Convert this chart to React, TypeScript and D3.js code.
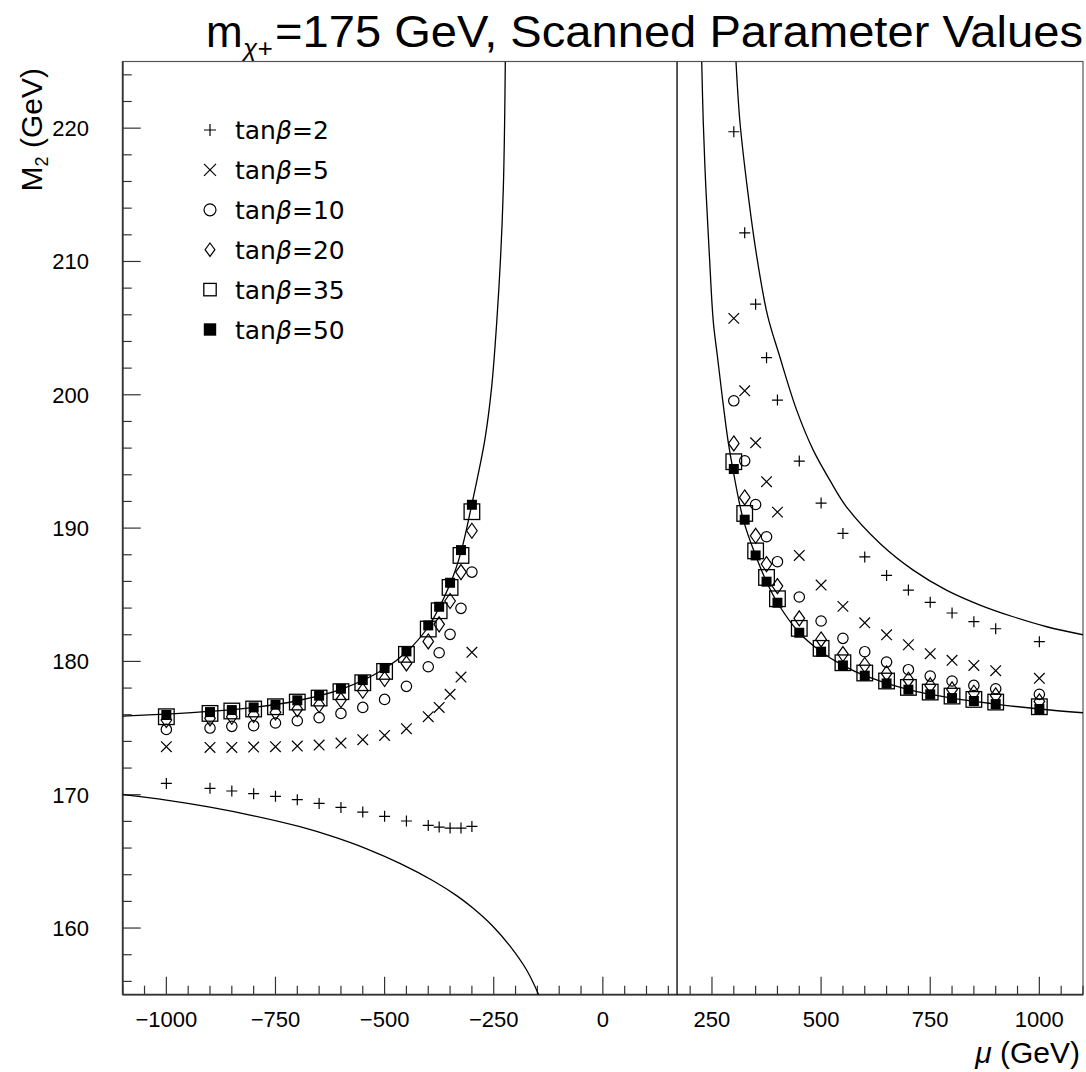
import React from "react";
import * as d3 from "d3";

// ---- scanned parameter points ----
const muLeft = [-1000, -900, -850, -800, -750, -700, -650, -600, -550, -500, -450, -400, -375, -350, -325, -300];
const muRight = [300, 325, 350, 375, 400, 450, 500, 550, 600, 650, 700, 750, 800, 850, 900, 1000];

const tanBetaLabels = ["2", "5", "10", "20", "35", "50"];
const markerTypes = ["plus", "cross", "circle", "diamond", "square", "filled"];

const m2Tan2Left = [170.85, 170.48, 170.28, 170.08, 169.88, 169.63, 169.35, 169.05, 168.7, 168.38, 168.03, 167.7, 167.57, 167.5, 167.5, 167.62];
const m2Tan5Left = [173.6, 173.55, 173.55, 173.58, 173.6, 173.65, 173.73, 173.88, 174.13, 174.45, 174.95, 175.85, 176.55, 177.53, 178.83, 180.68];
const m2Tan10Left = [174.9, 175.0, 175.13, 175.18, 175.38, 175.55, 175.78, 176.1, 176.55, 177.15, 178.13, 179.6, 180.65, 182.03, 183.98, 186.7];
const m2Tan20Left = [175.6, 175.73, 175.85, 175.98, 176.18, 176.42, 176.73, 177.1, 177.8, 178.68, 179.85, 181.5, 182.78, 184.53, 186.7, 189.8];
const m2Tan35Left = [175.85, 176.1, 176.28, 176.43, 176.6, 176.95, 177.25, 177.73, 178.4, 179.25, 180.53, 182.43, 183.8, 185.55, 187.95, 191.23];
const m2Tan50Left = [175.98, 176.2, 176.35, 176.55, 176.75, 177.08, 177.43, 177.95, 178.6, 179.5, 180.75, 182.7, 184.1, 185.9, 188.35, 191.75];

const m2Tan2Right = [219.73, 212.15, 206.8, 202.78, 199.6, 195.03, 191.88, 189.6, 187.84, 186.45, 185.35, 184.43, 183.63, 182.98, 182.45, 181.48];
const m2Tan5Right = [205.73, 200.3, 196.4, 193.48, 191.2, 187.95, 185.73, 184.13, 182.9, 182.0, 181.25, 180.58, 180.08, 179.7, 179.3, 178.73];
const m2Tan10Right = [199.55, 195.05, 191.77, 189.35, 187.48, 184.83, 183.03, 181.73, 180.73, 179.95, 179.38, 178.9, 178.53, 178.2, 177.95, 177.53];
const m2Tan20Right = [196.35, 192.3, 189.42, 187.3, 185.65, 183.23, 181.65, 180.55, 179.73, 179.1, 178.63, 178.2, 177.9, 177.65, 177.45, 177.0];
const m2Tan35Right = [194.98, 191.1, 188.29, 186.3, 184.7, 182.48, 180.98, 179.9, 179.13, 178.53, 178.05, 177.7, 177.4, 177.15, 176.95, 176.6];
const m2Tan50Right = [194.43, 190.63, 187.95, 185.98, 184.4, 182.15, 180.73, 179.7, 178.93, 178.35, 177.88, 177.53, 177.25, 177.03, 176.8, 176.43];

// ---- boundary curves ----
const curveUpperLeftMu = [-1100, -1000, -900, -800, -700, -600, -500, -450, -400, -350, -325, -300, -289, -270, -255, -243, -234, -228, -225, -223.5];
const curveUpperLeftM2 = [175.9, 176.05, 176.25, 176.55, 177.05, 177.9, 179.45, 180.7, 182.6, 185.8, 188.2, 191.8, 193.5, 196.7, 200.5, 205.5, 210.5, 215.5, 220.5, 225];

const curveLowerLeftMu = [-1100, -1000, -900, -800, -694, -618, -541, -465, -388, -335, -297, -251, -213, -175, -150, -140];
const curveLowerLeftM2 = [170.0, 169.6, 169.07, 168.42, 167.6, 166.85, 165.94, 164.85, 163.53, 162.43, 161.48, 160.1, 158.66, 156.87, 155.22, 154.4];

const curveInnerRightMu = [226.5, 230, 236, 244, 253, 262, 273, 287, 298, 322, 350, 375, 400, 450, 500, 550, 600, 700, 800, 900, 1000, 1100];
const curveInnerRightM2 = [225, 220.5, 215.5, 210.5, 205.5, 203.0, 200.0, 196.5, 194.4, 190.6, 187.95, 185.98, 184.4, 182.15, 180.73, 179.7, 178.93, 177.88, 177.25, 176.8, 176.43, 176.15];

const curveOuterRightMu = [305, 314, 331, 352, 377, 404, 444, 482, 520, 558, 635, 711, 787, 864, 940, 1017, 1100];
const curveOuterRightM2 = [225, 220.5, 215.5, 210.5, 206.0, 203.0, 198.85, 195.85, 193.6, 191.6, 188.85, 186.85, 185.35, 184.23, 183.35, 182.6, 182.0];

const verticalLineMu = 170;

const xDomain = [-1100, 1100];
const yDomain = [155, 225];

function markerPath(type: string, cx: number, cy: number, sz: any, key: string) {
  const sw = 1.2;
  if (type === "plus") {
    const h = sz.plus;
    return <path key={key} d={`M${cx - h},${cy}H${cx + h}M${cx},${cy - h}V${cy + h}`} stroke="#000" strokeWidth={sw} fill="none" />;
  }
  if (type === "cross") {
    const h = sz.cross;
    return <path key={key} d={`M${cx - h},${cy - h}L${cx + h},${cy + h}M${cx - h},${cy + h}L${cx + h},${cy - h}`} stroke="#000" strokeWidth={sw} fill="none" />;
  }
  if (type === "circle") {
    return <circle key={key} cx={cx} cy={cy} r={sz.circle} stroke="#000" strokeWidth={sw} fill="none" />;
  }
  if (type === "diamond") {
    const w = sz.dw, h = sz.dh;
    return <path key={key} d={`M${cx},${cy - h}L${cx + w},${cy}L${cx},${cy + h}L${cx - w},${cy}Z`} stroke="#000" strokeWidth={sw} fill="none" />;
  }
  if (type === "square") {
    const h = sz.square;
    return <rect key={key} x={cx - h} y={cy - h} width={2 * h} height={2 * h} stroke="#000" strokeWidth={1.3} fill="none" />;
  }
  const h = sz.filled;
  return <rect key={key} x={cx - h} y={cy - h} width={2 * h} height={2 * h} fill="#000" stroke="none" />;
}

export default function App() {
  const W = 1086, H = 1072;
  const L = 122.7, R = 1083, T = 61.5, B = 994.7;
  const x = d3.scaleLinear().domain(xDomain).range([L, R]);
  const y = d3.scaleLinear().domain(yDomain).range([B, T]);

  const line = d3
    .line<[number, number]>()
    .x((d) => x(d[0]))
    .y((d) => y(d[1]))
    .curve(d3.curveCatmullRom.alpha(0.5));

  const curves: [number[], number[]][] = [
    [curveUpperLeftMu, curveUpperLeftM2],
    [curveLowerLeftMu, curveLowerLeftM2],
    [curveInnerRightMu, curveInnerRightM2],
    [curveOuterRightMu, curveOuterRightM2],
  ];

  const seriesLeft = [m2Tan2Left, m2Tan5Left, m2Tan10Left, m2Tan20Left, m2Tan35Left, m2Tan50Left];
  const seriesRight = [m2Tan2Right, m2Tan5Right, m2Tan10Right, m2Tan20Right, m2Tan35Right, m2Tan50Right];

  const plotSize = { plus: 5.5, cross: 5.3, circle: 5.2, dw: 5.3, dh: 7.5, square: 7.8, filled: 5 };
  const legSize = { plus: 6, cross: 6, circle: 6, dw: 4.9, dh: 6.7, square: 6.2, filled: 6.2 };

  const xMajor = d3.range(-1000, 1001, 250);
  const xMinor = d3.range(-1100, 1101, 50).filter((v) => v % 250 !== 0);
  const yMajor = d3.range(160, 221, 10);
  const yMinor = d3.range(156, 225, 2).filter((v) => v % 10 !== 0);

  const fmt = (v: number) => (v < 0 ? "\u2212" + Math.abs(v) : String(v));
  const axisColor = "#333";

  return (
    <svg width={W} height={H} style={{ position: "absolute", left: 0, top: 0, background: "#fff" }} fontFamily="Liberation Sans, Arial, sans-serif">
      <defs>
        <clipPath id="plotClip">
          <rect x={L} y={T} width={R - L} height={B - T} />
        </clipPath>
      </defs>
      <rect x={0} y={0} width={W} height={H} fill="#fff" />

      {/* Title */}
      <text x={206} y={47} fontSize={44} fill="#000">m</text>
      <text x={243} y={57} fontSize={26} fill="#000" fontStyle="italic">χ+</text>
      <text x={275} y={47} fontSize={44} fill="#000" textLength={808} lengthAdjust="spacingAndGlyphs">=175 GeV, Scanned Parameter Values</text>

      {/* frame */}
      <rect x={L} y={T} width={R - L} height={B - T} fill="none" stroke="#555" strokeWidth={1.2} />
      <line x1={L} x2={L} y1={T} y2={B} stroke={axisColor} strokeWidth={1.8} />
      <line x1={L} x2={R} y1={B} y2={B} stroke={axisColor} strokeWidth={1.8} />

      {/* x ticks */}
      {xMajor.map((v) => (
        <line key={"xM" + v} x1={x(v)} x2={x(v)} y1={B} y2={B - 18} stroke={axisColor} strokeWidth={1.2} />
      ))}
      {xMinor.map((v) => (
        <line key={"xm" + v} x1={x(v)} x2={x(v)} y1={B} y2={B - 9} stroke={axisColor} strokeWidth={1.2} />
      ))}
      {xMajor.map((v) => (
        <text key={"xl" + v} x={x(v)} y={1027} fontSize={22} textAnchor="middle" fill="#000">{fmt(v)}</text>
      ))}

      {/* y ticks */}
      {yMajor.map((v) => (
        <line key={"yM" + v} x1={L} x2={L + 18} y1={y(v)} y2={y(v)} stroke={axisColor} strokeWidth={1.2} />
      ))}
      {yMinor.map((v) => (
        <line key={"ym" + v} x1={L} x2={L + 9} y1={y(v)} y2={y(v)} stroke={axisColor} strokeWidth={1.2} />
      ))}
      {yMajor.map((v) => (
        <text key={"yl" + v} x={89} y={y(v) + 8} fontSize={22} textAnchor="end" fill="#000">{fmt(v)}</text>
      ))}

      {/* axis titles */}
      <text x={1080} y={1063} fontSize={30} textAnchor="end" fill="#000">
        <tspan fontStyle="italic">μ</tspan> (GeV)
      </text>
      <text transform="translate(42,68) rotate(-90)" fontSize={30} textAnchor="end" fill="#000">
        M<tspan fontSize={18} dy={6}>2</tspan><tspan dy={-6}> (GeV)</tspan>
      </text>

      {/* curves */}
      <g clipPath="url(#plotClip)">
        {curves.map(([mu, m2], i) => (
          <path key={"c" + i} d={line(mu.map((m, j) => [m, m2[j]] as [number, number])) || ""} fill="none" stroke="#000" strokeWidth={1.3} />
        ))}
        <line x1={x(verticalLineMu)} x2={x(verticalLineMu)} y1={T} y2={B} stroke="#000" strokeWidth={1.3} />
      </g>

      {/* points */}
      {markerTypes.map((t, si) => (
        <g key={"s" + si}>
          {muLeft.map((m, j) => markerPath(t, x(m), y(seriesLeft[si][j]), plotSize, `L${si}-${j}`))}
          {muRight.map((m, j) => markerPath(t, x(m), y(seriesRight[si][j]), plotSize, `R${si}-${j}`))}
        </g>
      ))}

      {/* legend */}
      {tanBetaLabels.map((lab, i) => {
        const cy = 130 + i * 39.9;
        return (
          <g key={"leg" + i}>
            {markerPath(markerTypes[i], 210, cy, legSize, "lm" + i)}
            <text x={235} y={cy + 9} fontSize={25} fontFamily="DejaVu Sans, sans-serif" fill="#000">
              tan<tspan fontStyle="italic">β</tspan>={lab}
            </text>
          </g>
        );
      })}
    </svg>
  );
}
